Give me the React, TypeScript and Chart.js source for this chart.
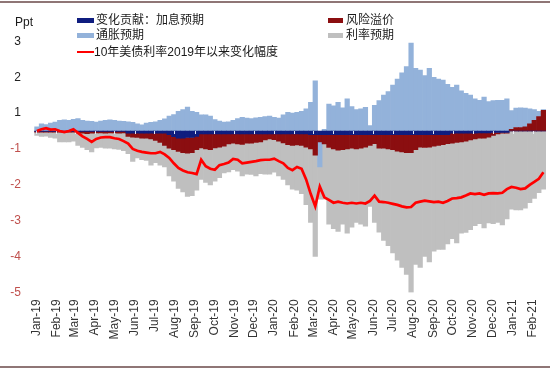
import React, { useEffect, useRef } from "react";
import { Chart, registerables } from "chart.js";

Chart.register(...registerables);

// x-axis tick labels (month starts)
const monthLabels = [
  "Jan-19", "Feb-19", "Mar-19", "Apr-19", "May-19", "Jun-19", "Jul-19", "Aug-19", "Sep-19",
  "Oct-19", "Nov-19", "Dec-19", "Jan-20", "Feb-20", "Mar-20", "Apr-20", "May-20", "Jun-20",
  "Jul-20", "Aug-20", "Sep-20", "Oct-20", "Nov-20", "Dec-20", "Jan-21", "Feb-21",
];

// y-axis ticks (labels as printed in the source, Excel "0" format of half-step ticks)
const yTickValues = [-4.5, -3.5, -2.5, -1.5, -0.5, 0.5, 1.5, 2.5];
const yTickLabels = ["-5", "-4", "-3", "-2", "-1", "1", "2", "3"];

// weekly observations, first one on 2019-01-02
const FIRST_YEAR = 2019;
const FIRST_MONTH = 0;
const FIRST_DAY = 2;

// 变化贡献：加息预期
const hikeExp = [
  -0.01, -0.01, -0.01, -0.01, -0.01, -0.01, -0.01, -0.01, -0.01, -0.01,
  -0.01, -0.01, -0.01, -0.01, -0.01, -0.01, -0.01, -0.01, -0.01, -0.01,
  -0.06, -0.06, -0.06, -0.06, -0.06, -0.06, -0.06, -0.06, -0.06,
  -0.1, -0.16, -0.2, -0.2, -0.18, -0.18, -0.15,
  -0.08, -0.08, -0.08, -0.08, -0.08, -0.08, -0.08, -0.08, -0.08, -0.08, -0.08, -0.08,
  -0.08, -0.08, -0.08, -0.08, -0.08, -0.08, -0.08, -0.08, -0.08, -0.08, -0.08, -0.08,
  -0.1, -0.1, -0.1, -0.1, -0.1, -0.1, -0.1, -0.1, -0.1, -0.1, -0.1, -0.1, -0.1, -0.1, -0.1, -0.1,
  -0.1, -0.1, -0.1, -0.1, -0.1, -0.1, -0.1, -0.1, -0.1, -0.1, -0.1, -0.1, -0.1, -0.1, -0.1,
  -0.06, -0.06, -0.06, -0.06, -0.06, -0.06,
  -0.05, -0.05, -0.05,
  -0.04, -0.04, -0.04, -0.04,
  0, 0, 0, 0, 0, 0, 0, 0,
];

// 风险溢价
const riskPremium = [
  -0.02, -0.02, -0.02, -0.02, -0.02, -0.02, -0.02, -0.02, -0.02,
  -0.04, -0.05, -0.06, -0.05, -0.04, -0.04, -0.05, -0.04, -0.04, -0.05, -0.04,
  -0.09, -0.11, -0.12, -0.14, -0.14, -0.16, -0.2, -0.26, -0.34, -0.38, -0.36, -0.37, -0.4, -0.44, -0.42, -0.37,
  -0.39, -0.42, -0.44, -0.39, -0.37, -0.34, -0.28, -0.26, -0.28, -0.29, -0.26, -0.26,
  -0.24, -0.22, -0.17, -0.14, -0.16, -0.2, -0.25, -0.3, -0.32, -0.31, -0.32, -0.37,
  -0.4, -0.57, -0.2, -0.26, -0.36, -0.4, -0.43, -0.42, -0.4, -0.38, -0.4, -0.38, -0.35, -0.3, -0.25, -0.38,
  -0.38, -0.4, -0.42, -0.46, -0.48, -0.5, -0.5, -0.42, -0.35, -0.36, -0.35, -0.32, -0.3, -0.28, -0.25,
  -0.28, -0.26, -0.24, -0.22, -0.19, -0.16, -0.15, -0.15, -0.12, -0.08, -0.04, -0.02, -0.02,
  0.05, 0.1, 0.1, 0.12, 0.2, 0.3, 0.4, 0.58,
];

// 通胀预期
const inflationExp = [
  0.12, 0.2, 0.18, 0.22, 0.25, 0.3, 0.31, 0.3, 0.33, 0.35,
  0.3, 0.28, 0.27, 0.25, 0.28, 0.3, 0.31, 0.3, 0.28, 0.27,
  0.26, 0.24, 0.2, 0.17, 0.22, 0.24, 0.26, 0.3, 0.34, 0.42,
  0.46, 0.55, 0.6, 0.67, 0.55, 0.52, 0.45, 0.45, 0.42, 0.32,
  0.28, 0.25, 0.26, 0.3, 0.35, 0.38, 0.36, 0.35, 0.37, 0.38,
  0.4, 0.42, 0.38, 0.36, 0.45, 0.52, 0.5, 0.52, 0.55, 0.62,
  0.8, 1.4, -0.7, 0.05, 0.75, 0.7, 0.8, 0.65, 0.9, 0.68,
  0.6, 0.62, 0.66, 0.15, 0.72, 0.85, 1.0, 1.1, 1.28, 1.45,
  1.62, 1.8, 2.45, 1.75, 1.7, 1.55, 1.75, 1.5, 1.45, 1.42,
  1.3, 1.22, 1.28, 1.12, 1.05, 1.0, 0.9, 0.86, 0.95, 0.82,
  0.85, 0.86, 0.86, 0.9, 0.52, 0.54, 0.55, 0.52, 0.42, 0.3,
  0.15, 0.02,
];

// 利率预期
const rateExp = [
  -0.09, -0.12, -0.11, -0.15, -0.17, -0.27, -0.27, -0.27, -0.25,
  -0.35, -0.4, -0.45, -0.52, -0.42, -0.41, -0.42, -0.43, -0.45, -0.45, -0.5,
  -0.48, -0.68, -0.57, -0.6, -0.62, -0.73, -0.62, -0.63, -0.6, -0.77, -0.88, -1.03, -1.1, -1.2, -1.2, -1.13,
  -0.88, -0.93, -0.98, -0.93, -0.85, -0.75, -0.78, -0.74, -0.76, -0.88, -0.86, -0.87,
  -0.93, -0.89, -0.95, -0.98, -0.91, -0.97, -1.02, -1.12, -1.22, -1.26, -1.35, -1.6,
  -2.05, -2.83, -0.9, -1.54, -2.14, -2.22, -2.27, -2.08, -2.35, -2.2, -2.05, -2.12, -2.2, -1.7, -2.2, -2.34,
  -2.57, -2.7, -2.88, -3.04, -3.22, -3.4, -3.9, -3.2, -3.35, -3.04, -3.2, -2.93, -2.9, -2.92, -2.8,
  -2.66, -2.8, -2.55, -2.55, -2.5, -2.42, -2.38, -2.5, -2.39, -2.46, -2.47, -2.56, -2.39,
  -2.18, -2.2, -2.2, -2.15, -2.0, -1.88, -1.72, -1.62,
];

// 10年美债利率2019年以来变化幅度
const ust10yChange = [
  0, 0.05, 0.08, 0.04, 0.05, 0.0, -0.03, 0.0, 0.05, -0.05,
  -0.15, -0.22, -0.3, -0.22, -0.18, -0.17, -0.17, -0.2, -0.22, -0.28,
  -0.35, -0.5, -0.55, -0.58, -0.6, -0.62, -0.62, -0.58, -0.65, -0.75,
  -0.9, -1.03, -1.1, -1.15, -1.17, -1.2, -0.8, -0.98, -1.05, -1.08,
  -0.95, -0.92, -0.88, -0.78, -0.8, -0.9, -0.88, -0.86, -0.84, -0.81,
  -0.8, -0.8, -0.77, -0.84, -0.9, -1.03, -1.09, -1.0, -1.05, -1.35,
  -1.75, -2.1, -1.55, -1.85, -1.92, -2.0, -1.97, -2.0, -2.02, -2.0,
  -2.02, -2.0, -2.02, -1.95, -1.8, -1.97, -1.98, -2.0, -2.03, -2.06,
  -2.1, -2.13, -2.12, -2.0, -1.97, -1.94, -1.96, -1.98, -1.97, -2.0,
  -1.95, -1.88, -1.87, -1.85, -1.8, -1.74, -1.76, -1.74, -1.78, -1.74,
  -1.73, -1.74, -1.72, -1.62, -1.56, -1.58, -1.62, -1.6, -1.5, -1.42,
  -1.33, -1.15,
];

const COLORS = {
  hike: "#0f1d7f",
  risk: "#8b0e10",
  infl: "#93b2da",
  rate: "#bfbfbf",
  line: "#ff0000",
};

const FONT = '"Liberation Sans", Arial, "Noto Sans CJK SC", sans-serif';

export default function App() {
  const ref = useRef<HTMLCanvasElement | null>(null);

  useEffect(() => {
    if (!ref.current) return;
    const DAY = 86400000;
    const base = Date.UTC(2019, 0, 1);
    const first = Date.UTC(FIRST_YEAR, FIRST_MONTH, FIRST_DAY);
    const xs = ust10yChange.map((_, i) => (first + i * 7 * DAY - base) / DAY);
    const monthTicks = monthLabels.map((_, k) => (Date.UTC(2019, k, 1) - base) / DAY);
    const pts = (arr: number[]) => arr.map((y, i) => ({ x: xs[i], y }));

    const barCommon = {
      barPercentage: 1,
      categoryPercentage: 1,
      borderWidth: 0,
      stack: "s",
    };

    // small light tick marks on the zero line (month boundaries), under the red line
    const zeroTicks = {
      id: "zeroTicks",
      afterDatasetDraw(chart: any, args: any) {
        if (args.index !== 1) return;
        const { ctx, scales } = chart;
        const y0 = scales.y.getPixelForValue(0);
        ctx.save();
        ctx.strokeStyle = "rgba(235,240,250,0.95)";
        ctx.lineWidth = 1;
        for (const v of monthTicks) {
          const x = Math.round(scales.x.getPixelForValue(v)) + 0.5;
          ctx.beginPath();
          ctx.moveTo(x, y0);
          ctx.lineTo(x, y0 + 3);
          ctx.stroke();
        }
        ctx.restore();
      },
    };

    const chart = new Chart(ref.current, {
      type: "bar",
      data: {
        datasets: [
          {
            type: "line",
            label: "10年美债利率2019年以来变化幅度",
            data: pts(ust10yChange),
            borderColor: COLORS.line,
            backgroundColor: COLORS.line,
            borderWidth: 2.7,
            pointRadius: 0,
            fill: false,
            tension: 0,
            stack: "line",
          } as any,
          { label: "变化贡献：加息预期", data: pts(hikeExp), backgroundColor: COLORS.hike, ...barCommon },
          { label: "风险溢价", data: pts(riskPremium), backgroundColor: COLORS.risk, ...barCommon },
          { label: "通胀预期", data: pts(inflationExp), backgroundColor: COLORS.infl, ...barCommon },
          { label: "利率预期", data: pts(rateExp), backgroundColor: COLORS.rate, ...barCommon },
        ],
      },
      options: {
        animation: false,
        responsive: false,
        devicePixelRatio: 1,
        layout: { padding: { top: 41.4, right: 4, bottom: 0, left: 0 } },
        plugins: { legend: { display: false }, tooltip: { enabled: false } },
        scales: {
          x: {
            type: "linear",
            offset: false,
            min: -5,
            max: 782,
            stacked: true,
            grid: { display: false, drawTicks: false },
            border: { display: false },
            afterBuildTicks: (s: any) => {
              s.ticks = monthTicks.map((v) => ({ value: v }));
            },
            afterFit: (s: any) => {
              s.height = 78.6;
              s.paddingLeft = 0;
              s.paddingRight = 0;
            },
            ticks: {
              autoSkip: false,
              minRotation: 90,
              maxRotation: 90,
              padding: 7,
              color: "#333",
              font: { family: FONT, size: 12 },
              callback: (_v: any, i: number) => monthLabels[i],
            },
          },
          y: {
            type: "linear",
            min: -4.5,
            max: 2.5,
            stacked: true,
            grid: { display: false, drawTicks: false },
            border: { display: false },
            afterBuildTicks: (s: any) => {
              s.ticks = yTickValues.map((v) => ({ value: v }));
            },
            afterFit: (s: any) => {
              s.width = 33;
              s.paddingTop = 0;
              s.paddingBottom = 0;
            },
            ticks: {
              padding: 12,
              font: { family: FONT, size: 12 },
              color: (ctx: any) => (ctx.tick && ctx.tick.value < 0 ? "#c0504d" : "#222"),
              callback: (v: any) => {
                const k = yTickValues.findIndex((t) => Math.abs(t - Number(v)) < 1e-6);
                return k >= 0 ? yTickLabels[k] : "";
              },
            },
          },
        },
      } as any,
      plugins: [zeroTicks],
    });
    return () => chart.destroy();
  }, []);

  const text = (left: number, cy: number, s: string) => (
    <span
      style={{
        position: "absolute",
        left,
        top: cy - 8,
        lineHeight: "16px",
        fontSize: 12,
        fontFamily: FONT,
        color: "#1a1a1a",
        whiteSpace: "nowrap",
      }}
    >
      {s}
    </span>
  );
  const box = (left: number, top: number, w: number, h: number, c: string) => (
    <div style={{ position: "absolute", left, top, width: w, height: h, background: c }} />
  );

  return (
    <div
      style={{
        position: "absolute",
        left: 0,
        top: 0,
        width: 550,
        height: 371,
        background: "#fff",
        overflow: "hidden",
      }}
    >
      <canvas ref={ref} width={550} height={371} style={{ position: "absolute", left: 0, top: 0 }} />
      <div style={{ position: "absolute", left: 0, top: 1, width: 550, height: 2, background: "#8f7676" }} />
      <div style={{ position: "absolute", left: 0, top: 366, width: 550, height: 2, background: "#8f7676" }} />
      {text(15, 22, "Ppt")}
      {box(77, 18, 17, 5, COLORS.hike)}
      {text(96, 20, "变化贡献：加息预期")}
      {box(77, 33, 17, 5, COLORS.infl)}
      {text(96, 35, "通胀预期")}
      {box(77, 51, 17, 2, COLORS.line)}
      {text(94, 52, "10年美债利率2019年以来变化幅度")}
      {box(328, 18, 15, 5, COLORS.risk)}
      {text(346, 20, "风险溢价")}
      {box(328, 33, 15, 5, COLORS.rate)}
      {text(346, 35, "利率预期")}
    </div>
  );
}
